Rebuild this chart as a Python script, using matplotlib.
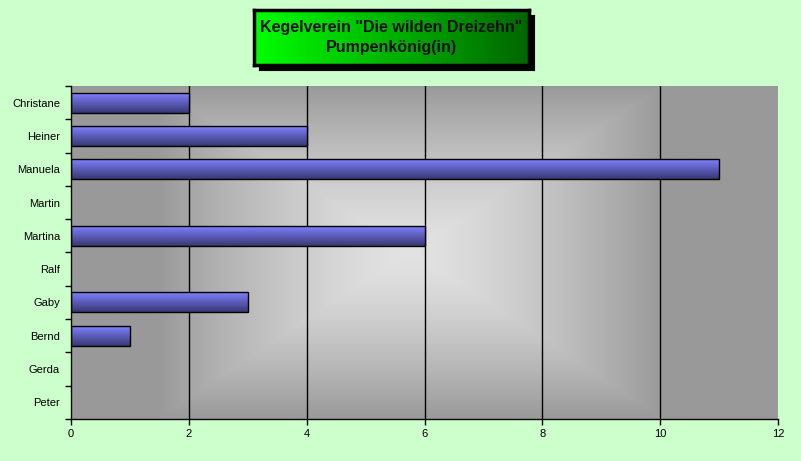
import numpy as np
import matplotlib.pyplot as plt
from matplotlib.patches import Rectangle

names = ['Christane', 'Heiner', 'Manuela', 'Martin', 'Martina',
         'Ralf', 'Gaby', 'Bernd', 'Gerda', 'Peter']
values = [2, 4, 11, 0, 6, 0, 3, 1, 0, 0]
x_ticks = [0, 2, 4, 6, 8, 10, 12]
title_lines = ['Kegelverein "Die wilden Dreizehn"', 'Pumpenkönig(in)']

W, H = 801, 461
fig = plt.figure(figsize=(W / 100, H / 100), dpi=100)
fig.patch.set_facecolor('#ccffcc')
plt.rcParams['font.family'] = ['Liberation Sans', 'DejaVu Sans']

# plot area in pixels
left, right, top, bottom = 71, 778, 86, 419
ax = fig.add_axes([left / W, 1 - bottom / H, (right - left) / W, (bottom - top) / H])

n = len(names)
ax.set_xlim(0, 12)
ax.set_ylim(n - 0.5, -0.5)

# gray background, rectangular gradient from the centre
gx, gy = np.meshgrid(np.linspace(-1, 1, 700), np.linspace(-1, 1, 330))
d = np.maximum(np.abs(gx + 0.04) / 0.72, np.abs(gy) / 1.0)
d = np.clip(d, 0, 1)
shade = 0.89 - 0.29 * d ** 1.4
bg = np.dstack([shade, shade, shade])
ax.imshow(bg, extent=[0, 12, n - 0.5, -0.5], aspect='auto', zorder=0,
          interpolation='bilinear')

for xv in x_ticks[1:-1]:
    ax.axvline(xv, color='black', lw=1, zorder=1)

# bars with vertical blue gradient
bar_h = 0.6
t = np.linspace(0, 1, 50)
top_col = np.array([0.50, 0.50, 1.0])
bot_col = np.array([0.22, 0.22, 0.45])
grad = top_col[None, :] * (1 - t[:, None]) + bot_col[None, :] * t[:, None]
grad = grad[:, None, :]
for i, v in enumerate(values):
    if v <= 0:
        continue
    ax.imshow(grad, extent=[0, v, i + bar_h / 2, i - bar_h / 2], aspect='auto', zorder=2)
    ax.add_patch(Rectangle((0, i - bar_h / 2), v, bar_h, fill=False,
                           edgecolor='black', lw=1, zorder=3))

ax.set_xlim(0, 12)
ax.set_ylim(n - 0.5, -0.5)
ax.set_xticks(x_ticks)
ax.set_yticks(range(n))
ax.set_yticklabels(names)
ax.set_yticks(np.arange(-0.5, n, 1), minor=True)
ax.tick_params(axis='y', which='major', length=0, labelsize=8, pad=8)
ax.tick_params(axis='y', which='minor', length=4, width=1, direction='out')
ax.tick_params(axis='x', length=4, width=1, labelsize=8, pad=3)
for s in ['top', 'right']:
    ax.spines[s].set_visible(False)
for s in ['left', 'bottom']:
    ax.spines[s].set_linewidth(1)

# title box with shadow
bx0, by0, bw, bh = 254, 10, 275, 55
shadow = fig.add_axes([(bx0 + 5) / W, 1 - (by0 + bh + 5) / H, bw / W, bh / H])
shadow.set_facecolor('black')
shadow.set_xticks([])
shadow.set_yticks([])
shadow.set_zorder(2)

tax = fig.add_axes([bx0 / W, 1 - (by0 + bh) / H, bw / W, bh / H])
tax.set_zorder(3)
tt = np.linspace(0, 1, 200)
g = 1.0 - 0.6 * tt
tgrad = np.dstack([np.zeros_like(g), g, np.zeros_like(g)])
tax.imshow(tgrad, extent=[0, 1, 0, 1], aspect='auto')
tax.set_xlim(0, 1)
tax.set_ylim(0, 1)
tax.set_xticks([])
tax.set_yticks([])
for s in tax.spines.values():
    s.set_linewidth(2.5)
    s.set_color('black')
tax.text(0.5, 0.5, '\n'.join(title_lines), ha='center', va='center',
         fontsize=11.5, fontweight='bold', linespacing=1.45, color='#111111')

fig.savefig('out.png', dpi=100, facecolor=fig.get_facecolor())
